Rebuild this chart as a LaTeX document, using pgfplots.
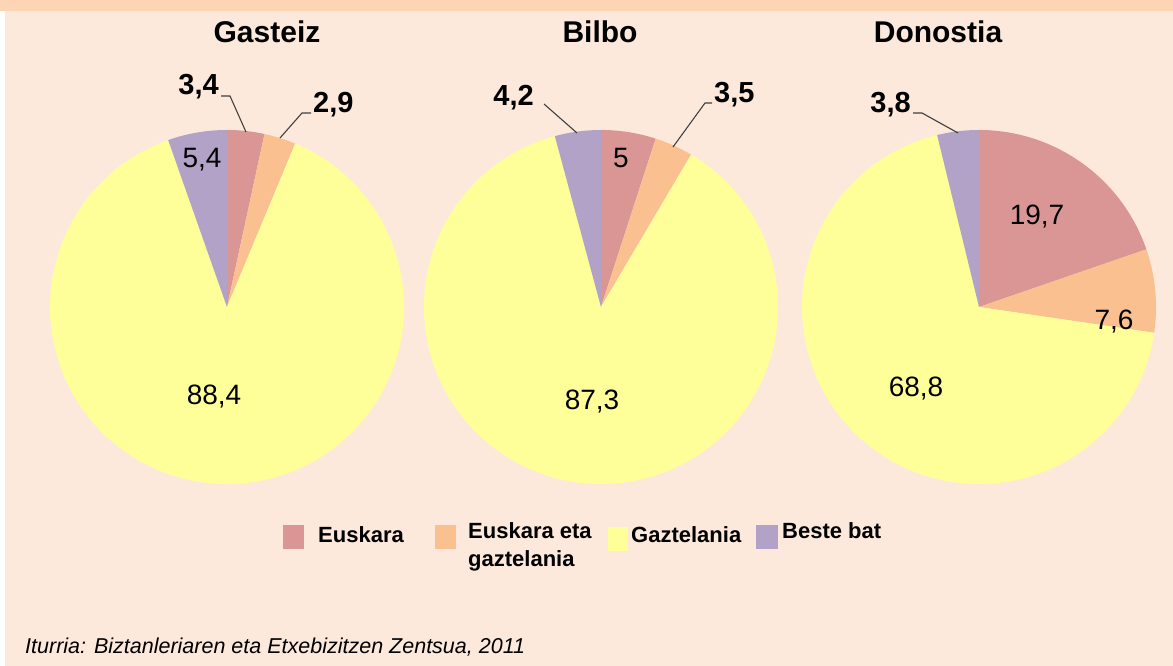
\documentclass[border=0pt]{standalone}
\usepackage{fontspec}
\setmainfont{Liberation Sans}
\usepackage{pgfplots}
\usepackage{pgfplotstable}
\pgfplotsset{compat=1.18}
\definecolor{bg}{HTML}{FDE9DB}
\definecolor{band}{HTML}{FDD5B5}
\definecolor{cEus}{HTML}{D99694}
\definecolor{cBoth}{HTML}{FAC090}
\definecolor{cCas}{HTML}{FFFF99}
\definecolor{cOth}{HTML}{B3A2C7}

% Euskara, Euskara eta gaztelania, Gaztelania, Beste bat
\pgfplotstableread{
lang value
Euskara 3.4
Both 2.9
Gaztelania 88.4
Beste 5.4
}\gasteiz
\pgfplotstableread{
lang value
Euskara 5
Both 3.5
Gaztelania 87.3
Beste 4.2
}\bilbo
\pgfplotstableread{
lang value
Euskara 19.7
Both 7.6
Gaztelania 68.8
Beste 3.8
}\donostia

\def\pieR{177bp}
\newcommand{\pieang}[1]{\csname pieang#1\endcsname}
\newcommand{\pieangles}[1]{%
  \gdef\pietotal{0}%
  \foreach \i in {0,...,3}{%
    \pgfplotstablegetelem{\i}{value}\of#1%
    \pgfmathsetmacro{\tmp}{\pietotal+\pgfplotsretval}%
    \xdef\pietotal{\tmp}%
  }%
  \gdef\piecum{0}%
  \expandafter\xdef\csname pieang0\endcsname{90}%
  \foreach \i [evaluate=\i as \j using int(\i+1)] in {0,...,3}{%
    \pgfplotstablegetelem{\i}{value}\of#1%
    \pgfmathsetmacro{\tmp}{\piecum+\pgfplotsretval}%
    \xdef\piecum{\tmp}%
    \pgfmathsetmacro{\ang}{90-360*(\piecum/\pietotal)}%
    \expandafter\xdef\csname pieang\j\endcsname{\ang}%
  }%
}
\newcommand{\piesector}[3]{%
  \fill[#1] (axis cs:0,0) -- ++(\pieang{#2}:\pieR) arc[start angle=\pieang{#2}, end angle=\pieang{#3}, radius=\pieR] -- cycle;}
\newcommand{\piesectors}{%
  \piesector{cEus}{0}{1}\piesector{cBoth}{1}{2}\piesector{cCas}{2}{3}\piesector{cOth}{3}{4}}
\pgfplotsset{pieaxis/.style={anchor=center, width=354bp, height=354bp, scale only axis, hide axis, xmin=-1, xmax=1, ymin=-1, ymax=1, clip=false}}

\begin{document}
\begin{tikzpicture}[x=1bp,y=1bp]
\fill[white] (0,0) rectangle (1173,666);
\fill[bg] (5,0) rectangle (1173,655);
\fill[band] (0,655) rectangle (1173,666);

\pieangles{\gasteiz}
\begin{axis}[pieaxis, at={(227bp,359bp)}]
\piesectors
\end{axis}
\pieangles{\bilbo}
\begin{axis}[pieaxis, at={(601bp,359bp)}]
\piesectors
\end{axis}
\pieangles{\donostia}
\begin{axis}[pieaxis, at={(979bp,359bp)}]
\piesectors
\end{axis}

% titles
\begin{scope}[every node/.style={font=\fontsize{30bp}{36bp}\selectfont\bfseries, anchor=base, inner sep=0pt}]
\node at (267,623) {Gasteiz};
\node at (600,623) {Bilbo};
\node at (938,623) {Donostia};
\end{scope}

% leader lines
\begin{scope}[draw=black!75, line width=1.1bp]
\draw (221,570) -- (230,570) -- (246,534);
\draw (311,553) -- (302,553) -- (280,528);
\draw (544,562) -- (577,533);
\draw (712,563) -- (705,563) -- (673,519);
\draw (913,553) -- (922,553) -- (958,533);
\end{scope}

% outside labels
\begin{scope}[every node/.style={font=\fontsize{29bp}{34bp}\selectfont\bfseries, inner sep=0pt}]
\node[anchor=base east] at (219,571) {3,4};
\node[anchor=base west] at (313,553) {2,9};
\node[anchor=base east] at (534,560) {4,2};
\node[anchor=base west] at (714,563) {3,5};
\node[anchor=base east] at (911,553) {3,8};
\end{scope}

% inside labels
\begin{scope}[every node/.style={font=\fontsize{28bp}{34bp}\selectfont, anchor=base, inner sep=0pt}]
\node at (202,498) {5,4};
\node at (214,261) {88,4};
\node at (621,498) {5};
\node at (592,256) {87,3};
\node at (1037,441) {19,7};
\node at (1114,336) {7,6};
\node at (916,269) {68,8};
\end{scope}

% legend
\fill[cEus] (283,117) rectangle (304,141);
\fill[cBoth] (435,117) rectangle (456,141);
\fill[cCas] (608,115) rectangle (628,139);
\fill[cOth] (756,117) rectangle (778,141);
\begin{scope}[every node/.style={font=\fontsize{22bp}{28bp}\selectfont\bfseries, anchor=base west, inner sep=0pt}]
\node at (318,123) {Euskara};
\node at (468,127) {Euskara eta};
\node at (468,99) {gaztelania};
\node at (631,123) {Gaztelania};
\node at (782,127) {Beste bat};
\end{scope}

% source
\node[font=\fontsize{21.5bp}{25bp}\selectfont\itshape, anchor=base west, inner sep=0pt] at (25,12) {Iturria: Biztanleriaren eta Etxebizitzen Zentsua, 2011};

\pgfresetboundingbox
\useasboundingbox (0,0) rectangle (1173,666);
\end{tikzpicture}
\end{document}
